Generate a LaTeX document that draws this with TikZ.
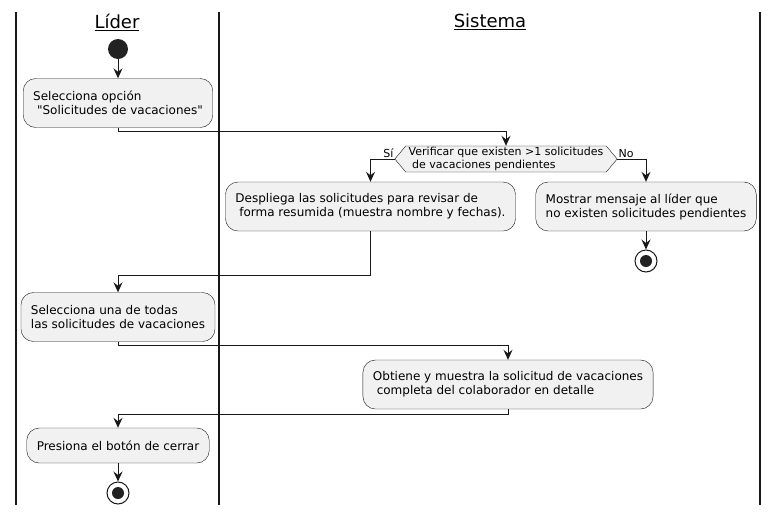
\documentclass[tikz,border=0pt]{standalone}
\usepackage{fontspec}
\setmainfont{DejaVu Sans}[Ligatures=TeXOff]
\usetikzlibrary{arrows.meta,shapes.symbols}
\definecolor{umlline}{HTML}{181818}
\definecolor{umlfill}{HTML}{F1F1F1}
\definecolor{umldot}{HTML}{222222}
\newcommand{\lsp}{\hspace*{0.318em}}

\begin{document}
\begin{tikzpicture}[
    x=1pt, y=-1pt,
    action/.style={rectangle, rounded corners=12.5pt, draw=umlline, fill=umlfill, align=left, inner xsep=10pt, minimum height=49pt, font=\fontsize{12}{14}\selectfont},
    decision/.style={signal, signal to=west and east, signal pointer angle=100, draw=umlline, fill=umlfill, align=left, inner xsep=3pt, inner ysep=1pt, minimum height=26pt, font=\fontsize{11}{13}\selectfont},
    startdot/.style={circle, fill=umldot, minimum size=20pt, inner sep=0pt},
    enddot/.style={circle, draw=umlline, line width=1pt, fill=white, minimum size=22pt, inner sep=0pt, path picture={\fill[umldot] (path picture bounding box.center) circle (6pt);}},
    lane/.style={line width=1.5pt, draw=umlline},
    title/.style={font=\fontsize{18}{22}\selectfont},
    branch/.style={font=\fontsize{11}{13}\selectfont, inner sep=1pt},
    arrow/.style={-{Stealth[length=10pt,width=9pt,inset=3.5pt]}, line width=1pt, draw=umlline}
  ]
    \useasboundingbox (0,0) rectangle (779,515);

    % Swimlanes
    \draw[lane] (16,12) -- (16,505);
    \draw[lane] (219,12) -- (219,505);
    \draw[lane] (760,12) -- (760,505);
    \node[title] (tlider) at (117,22) {\underline{Líder}};
    \node[title] (tsistema) at (490,22) {\underline{Sistema}};

    % Row 1: Start
    \node[startdot] (begin) at (118,49) {};
    \node[action] (pick) at (118,103) {Selecciona opción\\\lsp"Solicitudes de vacaciones"};
    \draw[arrow] (begin) -- (pick);

    % Row 2: Check
    \node[decision] (check) at (506,159) {Verificar que existen >1 solicitudes\\\lsp de vacaciones pendientes};
    \draw[arrow] (pick.south) -- ++(0,4) -| (check.north);
    \node[branch, anchor=south east] (yes) at (check.west) {Sí};
    \node[branch, anchor=south west] (no) at (check.east) {No};

    % Row 3: Branches
    \node[action] (show) at (370.5,206.5) {Despliega las solicitudes para revisar de\\\lsp forma resumida (muestra nombre y fechas).};
    \node[action] (nomsg) at (646,206.5) {Mostrar mensaje al líder que\\no existen solicitudes pendientes};
    \draw[arrow] (check.west) -| (show.north);
    \draw[arrow] (check.east) -| (nomsg.north);
    \node[enddot] (stop1) at (646,261) {};
    \draw[arrow] (nomsg) -- (stop1);

    % Row 4: Choose
    \node[action] (choose) at (118,317) {Selecciona una de todas\\las solicitudes de vacaciones};
    \draw[arrow] (show.south) -- ++(0,44) -| (choose.north);

    % Row 5: Detail
    \node[action] (detail) at (508,384.5) {Obtiene y muestra la solicitud de vacaciones\\\lsp completa del colaborador en detalle};
    \draw[arrow] (choose.south) -- ++(0,4) -| (detail.north);

    % Row 6: Close
    \node[action, minimum height=35pt] (closebtn) at (118,445.5) {Presiona el botón de cerrar};
    \draw[arrow] (detail.south) -- ++(0,5) -| (closebtn.north);
    \node[enddot] (stop2) at (118,493) {};
    \draw[arrow] (closebtn) -- (stop2);
  \end{tikzpicture}
\end{document}
